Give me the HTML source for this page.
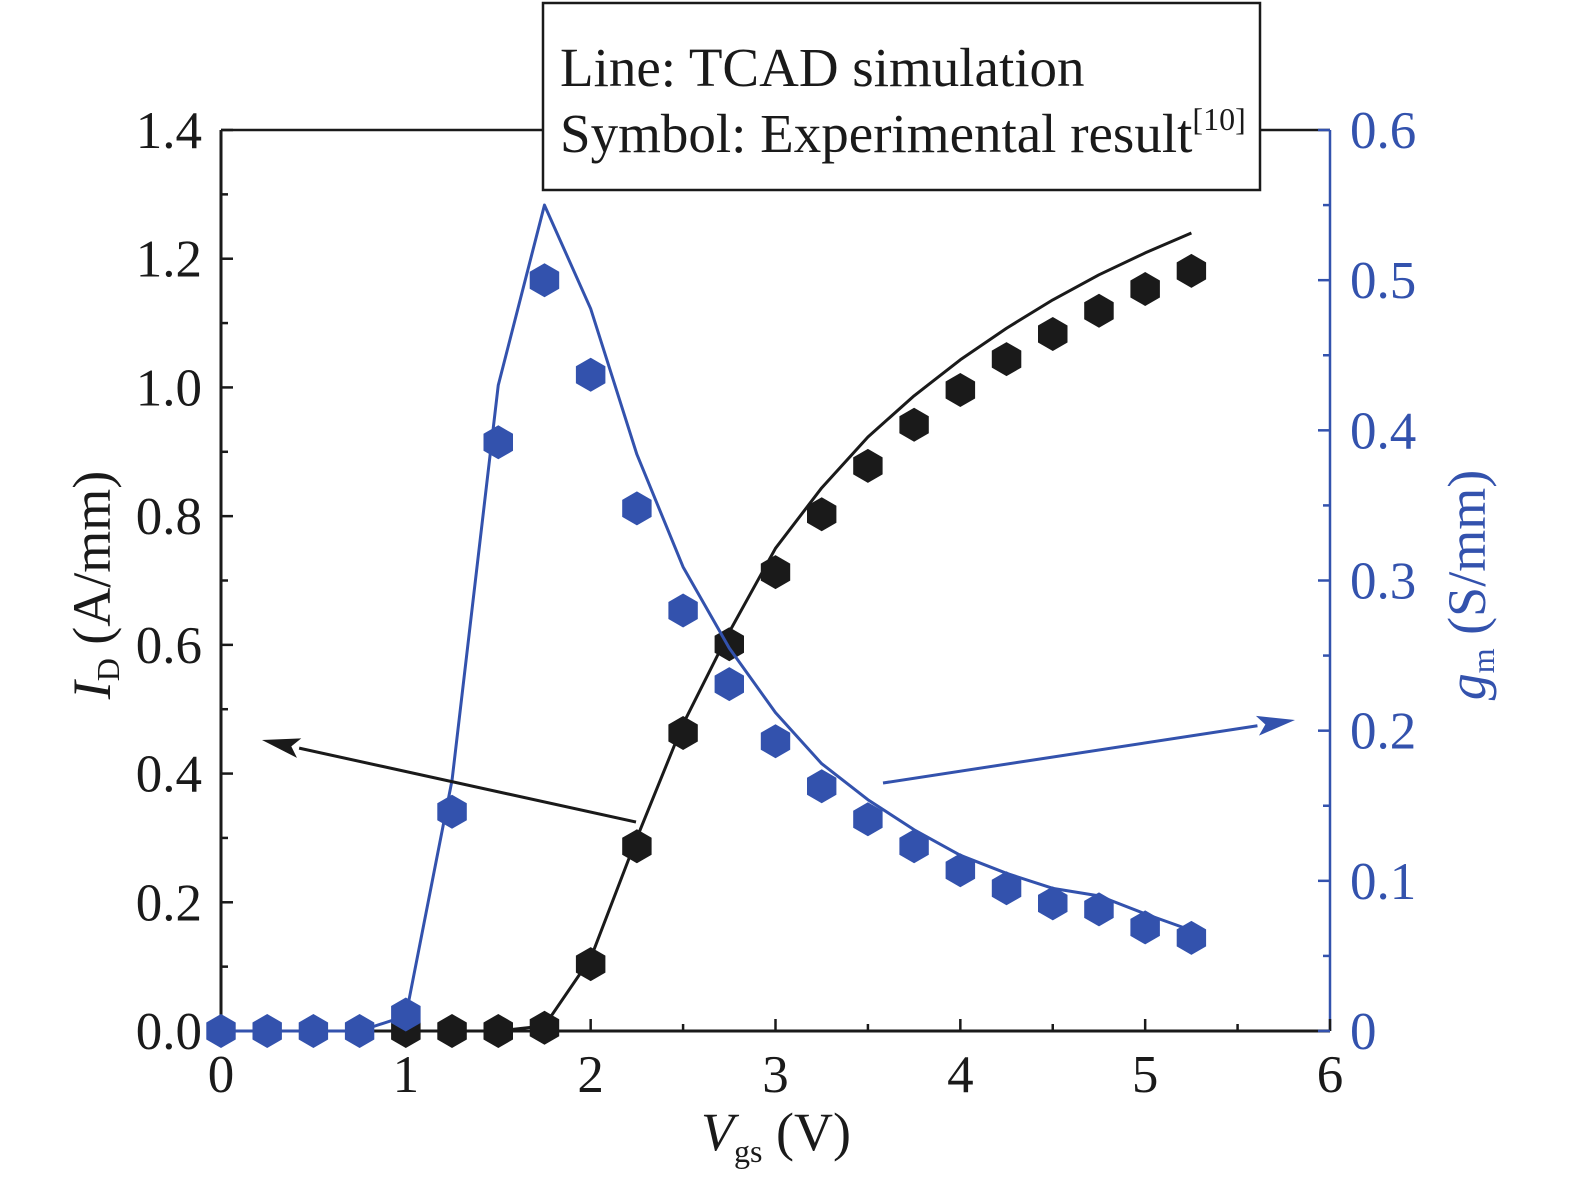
<!DOCTYPE html>
<html><head><meta charset="utf-8"><style>
html,body{margin:0;padding:0;background:#fff;}
svg{display:block;font-family:"Liberation Serif",serif;}
</style></head><body>
<svg id="chart" width="1575" height="1181" viewBox="0 0 1575 1181" xmlns="http://www.w3.org/2000/svg">
<g id="axes"></g>
<g id="series"></g>
<g id="overlay"></g>
</svg>
<script>
const xValues=[0,0.25,0.5,0.75,1,1.25,1.5,1.75,2,2.25,2.5,2.75,3,3.25,3.5,3.75,4,4.25,4.5,4.75,5,5.25];
const idSim=[0,0,0,0,0,0,0,0.008,0.113,0.3,0.477,0.62,0.75,0.844,0.923,0.987,1.043,1.092,1.136,1.175,1.209,1.24];
const idExpX=[1,1.25,1.5,1.75,2,2.25,2.5,2.75,3,3.25,3.5,3.75,4,4.25,4.5,4.75,5,5.25];
const idExp=[0,0,0,0.005,0.104,0.287,0.463,0.601,0.713,0.803,0.878,0.942,0.996,1.044,1.083,1.119,1.153,1.181];
const gmSim=[0,0,0,0,0.01,0.167,0.43,0.55,0.481,0.384,0.309,0.255,0.212,0.178,0.154,0.134,0.117,0.105,0.095,0.09,0.078,0.067];
const gmExp=[0,0,0,0,0.011,0.146,0.392,0.5,0.437,0.348,0.28,0.231,0.193,0.163,0.141,0.123,0.107,0.095,0.085,0.081,0.069,0.062];
const xTicks=[0,1,2,3,4,5,6];
const yLeftTicks=[0,0.2,0.4,0.6,0.8,1.0,1.2,1.4];
const yRightTicks=[0,0.1,0.2,0.3,0.4,0.5,0.6];
const yRightLabels=["0","0.1","0.2","0.3","0.4","0.5","0.6"];

const NS="http://www.w3.org/2000/svg";
const X0=221,X1=1330,YB=1031,YT=130;
const xs=v=>X0+(X1-X0)*v/6;
const yl=v=>YB-(YB-YT)*v/1.4;
const yr=v=>YB-(YB-YT)*v/0.6;
const BLUE="#3352ad", BLK="#1a1a1a";
const FS=53;
function mk(tag,attrs,parent){const e=document.createElementNS(NS,tag);for(const k in attrs)e.setAttribute(k,attrs[k]);parent.appendChild(e);return e;}
const axes=document.getElementById('axes'),series=document.getElementById('series'),overlay=document.getElementById('overlay');

let e;
e=mk('line',{x1:X0,y1:YT,x2:X1,y2:YT,stroke:BLK,'stroke-width':2.5},axes);

e=mk('line',{x1:X0,y1:YT,x2:X0,y2:YB,stroke:BLK,'stroke-width':3},axes);

e=mk('line',{x1:X0,y1:YB,x2:X1,y2:YB,stroke:BLK,'stroke-width':3},axes);

e=mk('line',{x1:X1,y1:YT,x2:X1,y2:YB,stroke:BLUE,'stroke-width':2.5},axes);


for(let i=0;i<=12;i++){const v=i*0.5,x=xs(v),len=(i%2==0)?12:7;
 mk('line',{x1:x,y1:YB,x2:x,y2:YB-len,stroke:BLK,'stroke-width':2.5},axes);}
xTicks.forEach(v=>{e=mk('text',{x:xs(v),y:1092,'text-anchor':'middle','font-size':FS,fill:BLK},axes);e.textContent=v;
 });
for(let i=0;i<=14;i++){const v=i*0.1,y=yl(v),len=(i%2==0)?12:7;
 mk('line',{x1:X0,y1:y,x2:X0+len,y2:y,stroke:BLK,'stroke-width':2.5},axes);}
yLeftTicks.forEach(v=>{e=mk('text',{x:202,y:yl(v)+18,'text-anchor':'end','font-size':FS,fill:BLK},axes);e.textContent=v.toFixed(1);
 });
for(let i=0;i<=12;i++){const v=i*0.05,y=yr(v),len=(i%2==0)?12:7;
 mk('line',{x1:X1,y1:y,x2:X1-len,y2:y,stroke:BLUE,'stroke-width':2.5},axes);}
yRightTicks.forEach((v,i)=>{e=mk('text',{x:1350,y:yr(v)+18,'font-size':FS,fill:BLUE},axes);e.textContent=yRightLabels[i];
 });

function poly(xv,yv,f,color,name){const pts=xv.map((x,i)=>xs(x)+','+f(yv[i])).join(' ');
 const p=mk('polyline',{points:pts,fill:'none',stroke:color,'stroke-width':3,'stroke-linejoin':'round'},series);
 }
function hex(cx,cy,r,color,name){let pts=[];for(let k=0;k<6;k++){const a=Math.PI/180*(60*k-90);pts.push((cx+r*Math.cos(a)).toFixed(1)+','+(cy+r*Math.sin(a)).toFixed(1));}
 const p=mk('polygon',{points:pts.join(' '),fill:color},series);
 }

poly(xValues,idSim,yl,BLK,'id-simulation-line');
idExpX.forEach((x,i)=>hex(xs(x),yl(idExp[i]),17,BLK,'id-experimental-point'));
poly(xValues,gmSim,yr,BLUE,'gm-simulation-line');
xValues.forEach((x,i)=>hex(xs(x),yr(gmExp[i]),17,BLUE,'gm-experimental-point'));

function arrow(x1,y1,x2,y2,color,name){const g=mk('g',{},overlay);
 
 const dx=x2-x1,dy=y2-y1,L=Math.hypot(dx,dy),ux=dx/L,uy=dy/L,hl=38,hw=10;
 const bx=x2-ux*hl,by=y2-uy*hl;
 mk('line',{x1:x1,y1:y1,x2:bx,y2:by,stroke:color,'stroke-width':3},g);
 mk('polygon',{points:`${x2},${y2} ${bx-uy*hw},${by+ux*hw} ${bx+ux*8},${by+uy*8} ${bx+uy*hw},${by-ux*hw}`,fill:color},g);}
arrow(636,822,262,740,BLK,'left-axis-arrow');
arrow(883,783,1295,720,BLUE,'right-axis-arrow');

e=mk('rect',{x:543,y:3,width:717,height:187,fill:'#fff',stroke:BLK,'stroke-width':2.5},overlay);

e=mk('text',{x:560,y:86,'font-size':55,fill:BLK},overlay);e.textContent='Line: TCAD simulation';

e=mk('text',{x:560,y:152,'font-size':55,fill:BLK},overlay);e.innerHTML='Symbol: Experimental result<tspan font-size="32" dy="-22">[10]</tspan>';


e=mk('text',{x:0,y:0,'font-size':54,fill:BLK,'text-anchor':'middle',transform:'translate(110,585) rotate(-90)'},overlay);
e.innerHTML='<tspan font-style="italic">I</tspan><tspan font-size="32" dy="9">D</tspan><tspan dy="-9"> (A/mm)</tspan>';

e=mk('text',{x:0,y:0,'font-size':54,fill:BLUE,'text-anchor':'middle',transform:'translate(1485,585) rotate(-90)'},overlay);
e.innerHTML='<tspan font-style="italic">g</tspan><tspan font-size="32" dy="9">m</tspan><tspan dy="-9"> (S/mm)</tspan>';

e=mk('text',{x:776,y:1150,'font-size':54,fill:BLK,'text-anchor':'middle'},overlay);
e.innerHTML='<tspan font-style="italic">V</tspan><tspan font-size="32" dy="12">gs</tspan><tspan dy="-12"> (V)</tspan>';

</script>
</body></html>
